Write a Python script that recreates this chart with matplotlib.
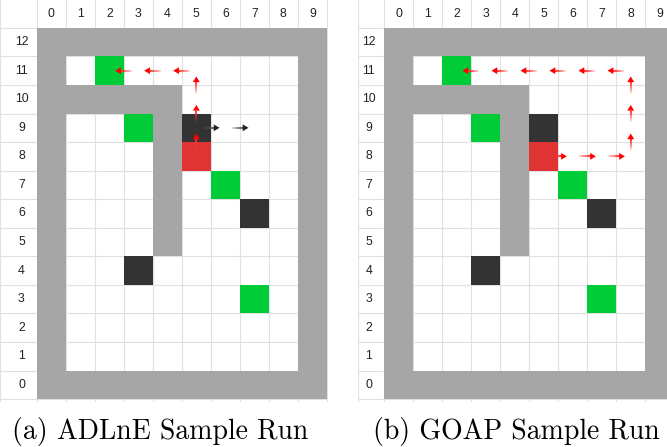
"""Two grid-world sample runs (ADLnE vs GOAP) drawn side by side."""

import matplotlib

matplotlib.use("Agg")
import matplotlib.pyplot as plt  # noqa: E402
from matplotlib.collections import LineCollection  # noqa: E402
from matplotlib.patches import Polygon, Rectangle  # noqa: E402
import numpy as np  # noqa: E402

N_COLS = 10
N_ROWS = 13
COL_LABELS = [str(i) for i in range(N_COLS)]
ROW_LABELS = [str(i) for i in range(N_ROWS)]

# wall runs as inclusive cell ranges: (col0, row0, col1, row1)
WALL_RUNS = [
    (0, 0, 9, 0),
    (0, 12, 9, 12),
    (0, 1, 0, 11),
    (9, 1, 9, 11),
    (1, 10, 4, 10),
    (4, 5, 4, 9),
]
GREEN_CELLS = [(2, 11), (3, 9), (6, 7), (7, 3)]
BLACK_CELLS = [(5, 9), (7, 6), (3, 4)]
RED_CELLS = [(5, 8)]

# paths (cell sequences) for each run
ADLNE_RED_PATH = [(5, 8), (5, 9), (5, 10), (5, 11), (4, 11), (3, 11), (2, 11)]
ADLNE_BLACK_PATH = [(5, 9), (6, 9), (7, 9)]
GOAP_RED_PATH = [(5, 8), (6, 8), (7, 8), (8, 8), (8, 9), (8, 10), (8, 11),
                 (7, 11), (6, 11), (5, 11), (4, 11), (3, 11), (2, 11)]

CAPTIONS = ["(a) ADLnE Sample Run", "(b) GOAP Sample Run"]

WALL = "#a6a6a6"
GREEN = "#00cc38"
BLACK = "#333333"
RED = "#e03434"
GRID = "#e0e0e0"

plt.rcParams["axes.unicode_minus"] = False


def draw_arrow(ax, p0, p1, color, tail_color):
    c0 = np.array(p0, float) + 0.5
    d = np.array(p1, float) - np.array(p0, float)
    tail = c0 + 0.22 * d
    tip = c0 + 0.8 * d
    head_len = 0.2
    base = tip - head_len * d
    # fading shaft
    n = 10
    pts = np.linspace(tail, base, n + 1)
    segs = [[pts[i], pts[i + 1]] for i in range(n)]
    alphas = np.linspace(0.2, 0.95, n)
    cols = [matplotlib.colors.to_rgba(tail_color, a) for a in alphas]
    ax.add_collection(LineCollection(segs, colors=cols, linewidths=1.5, zorder=5))
    perp = np.array([-d[1], d[0]])
    hw = 0.12
    tri = [tip, base + hw * perp, base - hw * perp]
    ax.add_patch(Polygon(tri, closed=True, facecolor=color, edgecolor="none", zorder=6))


def draw_panel(ax, x_left, x_right, paths):
    ax.set_xlim(x_left, x_right)
    ax.set_ylim(-0.1, 13.97)
    ax.axis("off")

    for x in range(N_COLS + 1):
        ax.plot([x, x], [-0.1, 14], color=GRID, lw=0.8, zorder=1)
    ax.plot([x_left, x_left], [-0.1, 14], color=GRID, lw=0.8, zorder=1)
    for y in range(N_ROWS + 1):
        ax.plot([x_left, N_COLS], [y, y], color=GRID, lw=0.8, zorder=1)

    for c0, r0, c1, r1 in WALL_RUNS:
        ax.add_patch(Rectangle((c0, r0), c1 - c0 + 1, r1 - r0 + 1,
                               facecolor=WALL, edgecolor="none", zorder=2))
    for cells, col in [(GREEN_CELLS, GREEN), (BLACK_CELLS, BLACK), (RED_CELLS, RED)]:
        for c, r in cells:
            ax.add_patch(Rectangle((c, r), 1, 1, facecolor=col,
                                   edgecolor="none", zorder=3))

    for path, color, tail_color in paths:
        for a, b in zip(path[:-1], path[1:]):
            draw_arrow(ax, a, b, color, tail_color)

    for i, lab in enumerate(COL_LABELS):
        ax.text(i + 0.5, 13.5, lab, ha="center", va="center",
                fontsize=8.8, family="Liberation Sans", color="#222222")
    for i, lab in enumerate(ROW_LABELS):
        ax.text(-0.53, i + 0.5, lab, ha="center", va="center",
                fontsize=8.8, family="Liberation Sans", color="#222222")


fig = plt.figure(figsize=(6.67, 4.47), dpi=100)

ax1 = fig.add_axes([0.0, 0.1007, 0.4913, 0.899])
draw_panel(ax1, -1.27, 10.03,
           [(ADLNE_RED_PATH, "#ff0000", "#ff3030"),
            (ADLNE_BLACK_PATH, "#222222", "#555555")])

ax2 = fig.add_axes([0.5367, 0.1007, 0.4633, 0.899])
draw_panel(ax2, -0.9, 9.75,
           [(GOAP_RED_PATH, "#ff0000", "#ff3030")])

fig.text(160 / 667, 1 - 431 / 447, CAPTIONS[0], ha="center", va="center",
         fontsize=20, family="cmr10")
fig.text(516 / 667, 1 - 431 / 447, CAPTIONS[1], ha="center", va="center",
         fontsize=20, family="cmr10")

fig.savefig("out.png", dpi=100)
plt.close(fig)
